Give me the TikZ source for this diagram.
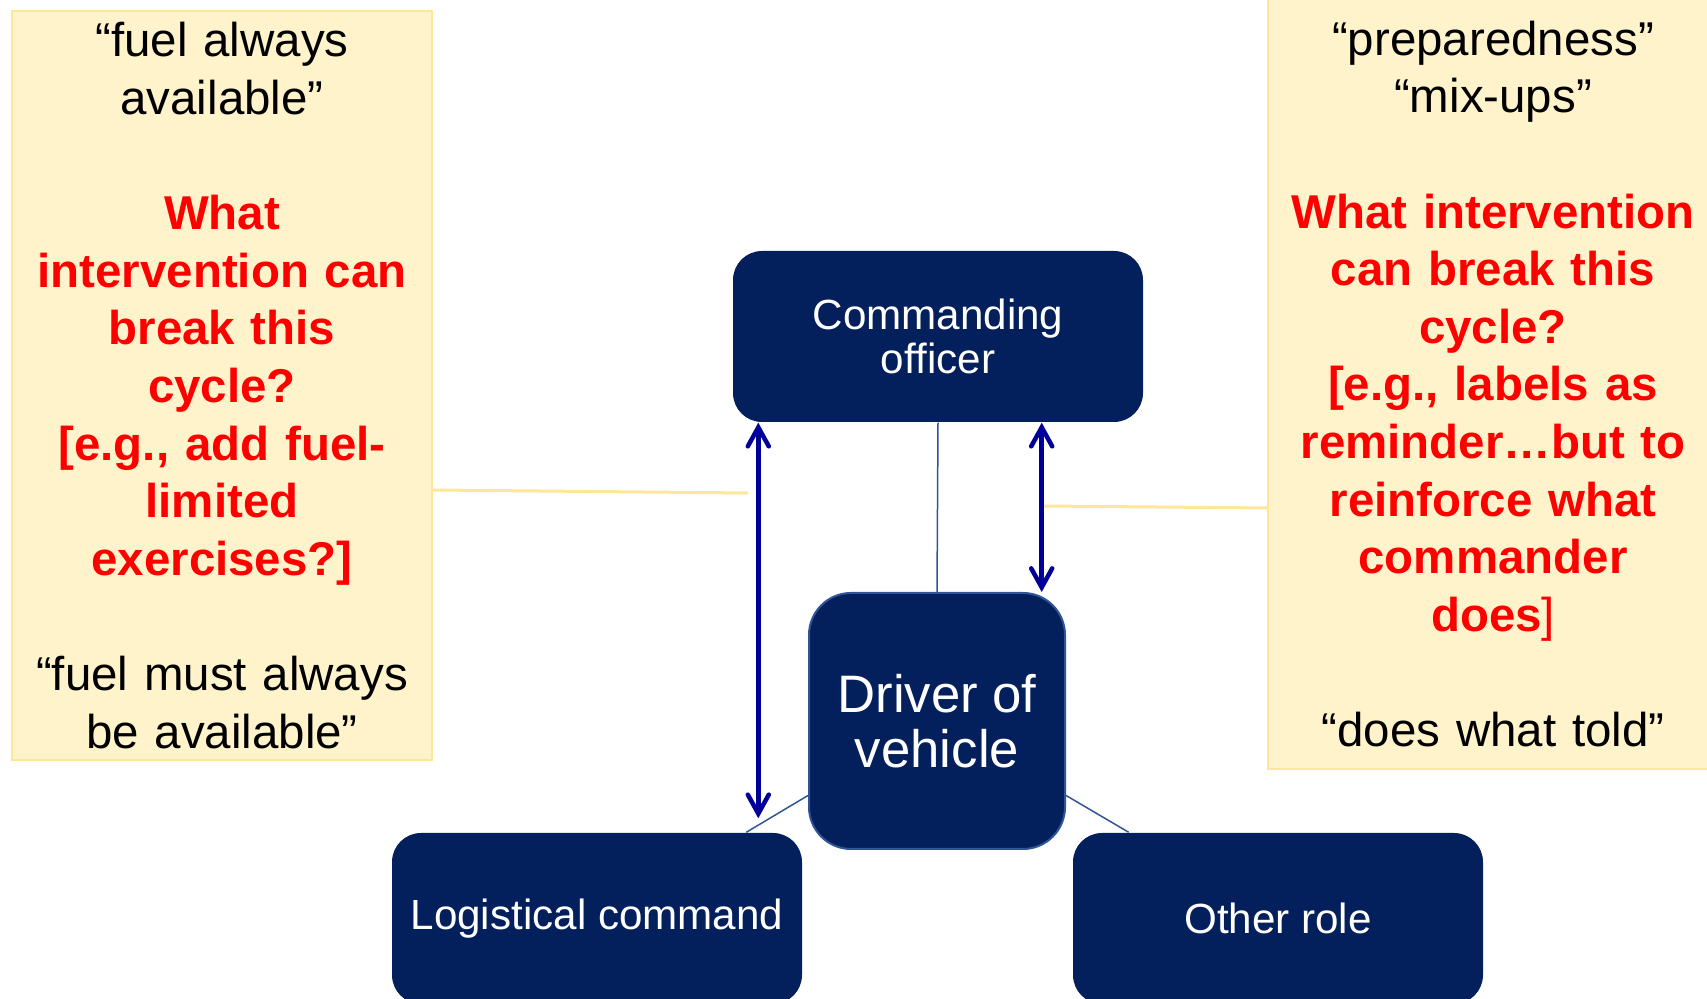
\documentclass[tikz,border=0pt]{standalone}
\usepackage{fontspec}
\setmainfont{Liberation Sans}
\usetikzlibrary{arrows.meta}
\definecolor{rolefill}{HTML}{03205C}
\definecolor{linkblue}{HTML}{2F5597}
\definecolor{arrowblue}{HTML}{000099}
\definecolor{notefill}{HTML}{FFF3CB}
\definecolor{noteedge}{HTML}{FFE699}

\begin{document}
\begin{tikzpicture}[x=0.1mm,y=-0.1mm,font=\fontsize{13.5}{16.4}\selectfont]
    \tikzstyle{role node}=[rectangle,rounded corners=2.9mm,fill=rolefill,text=white,inner sep=0,align=center,minimum width=41mm,minimum height=17.1mm,font=\fontsize{12}{12.4}\selectfont]
    \tikzstyle{driver node}=[role node,rounded corners=4.2mm,minimum width=25.6mm,minimum height=25.6mm,draw=linkblue,line width=0.2mm,font=\fontsize{15}{15.5}\selectfont]
    \tikzstyle{note node}=[rectangle,fill=notefill,draw=noteedge,line width=0.2mm,inner sep=0,align=center]
    \tikzstyle{link}=[draw=linkblue,line width=0.15mm]
    \tikzstyle{note link}=[draw=noteedge,line width=0.3mm]
    \tikzstyle{both ways}=[draw=arrowblue,line width=0.45mm,{Straight Barb[length=1.9mm,width=2.1mm,line cap=round]}-{Straight Barb[length=1.9mm,width=2.1mm,line cap=round]}]

    \useasboundingbox (0,0) rectangle (1707,999);

    % notes
    \node(left note)[note node,text width=42mm,minimum height=74.9mm] at (222,385.5) {“fuel always\\available”\\[16.4pt]
        \color{red}\bfseries What\\intervention can\\break this\\cycle?\\{[}e.g., add fuel-\\limited\\exercises?]\\[16.4pt]
        \color{black}\mdseries “fuel must always\\be available”};
    \node(right note)[note node,text width=45mm,minimum height=77mm] at (1493,384) {“preparedness”\\“mix-ups”\\[16.4pt]
        \color{red}\bfseries What intervention\\can break this\\cycle?\\{[}e.g., labels as\\reminder…but to\\reinforce what\\commander\\does{\mdseries]}\\[16.4pt]
        \color{black}\mdseries “does what told”};

    % roles
    \node(co)[role node] at (938,336.5) {Commanding\\officer};
    \node(drv)[driver node] at (937,721) {Driver of\\vehicle};
    \node(lc)[role node] at (597,918.5) {Logistical command};
    \node(or)[role node] at (1278,918.5) {Other role};

    \coordinate(left end) at (748,493);
    \coordinate(right end) at (1043,506);
    \coordinate(la) at ([xshift=2.6mm]co.south west);
    \coordinate(ra) at ([xshift=-10.2mm]co.south east);

    \draw[note link] ([yshift=-10.45mm]left note.east) -- (left end);
    \draw[note link] (right end) -- ([yshift=-12.4mm]right note.west);

    \draw[link] (co.south) -- (drv.north);
    \draw[link] (drv.210) -- (lc.30);
    \draw[link] (drv.330) -- (or.150);

    \draw[both ways,shorten >=1.4mm] (la) -- (la |- lc.north);
    \draw[both ways] (ra) -- (ra |- drv.north);
\end{tikzpicture}
\end{document}
